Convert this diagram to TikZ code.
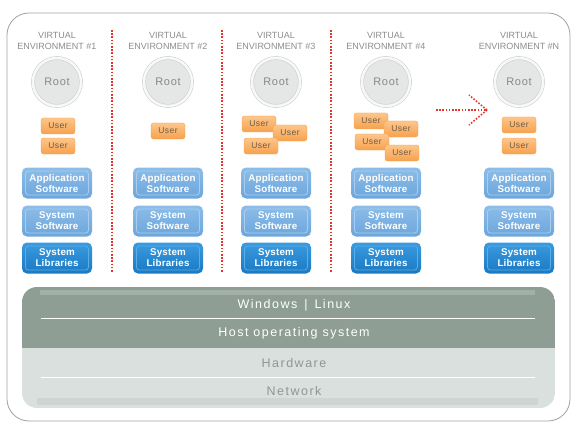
\documentclass[tikz,border=0pt]{standalone}
\usepackage{fontspec}
\setmainfont{Liberation Sans}
\newfontfamily\hdrfont{Liberation Sans}
\newfontfamily\rootfont[LetterSpace=6]{Liberation Sans}
\newfontfamily\userfont[LetterSpace=6]{Liberation Sans}
\newfontfamily\boxfont[LetterSpace=2]{Liberation Sans}
\newfontfamily\hostfont[LetterSpace=12]{Liberation Sans}
\definecolor{framegray}{HTML}{9EA3A0}
\definecolor{hdrgray}{HTML}{8C8C8C}
\definecolor{dotred}{HTML}{E8352B}
\definecolor{rootfill}{HTML}{E5E7E6}
\definecolor{rootrim}{HTML}{CDD0CF}
\definecolor{roottext}{HTML}{858987}
\definecolor{usertop}{HTML}{FDC68A}
\definecolor{userbot}{HTML}{F6A24F}
\definecolor{usertext}{HTML}{6E5B48}
\definecolor{softtop}{HTML}{8DBDE8}
\definecolor{softbot}{HTML}{6CA6DC}
\definecolor{softline}{HTML}{A9CDEE}
\definecolor{libtop}{HTML}{3A9BE0}
\definecolor{libbot}{HTML}{1A79C2}
\definecolor{libline}{HTML}{5CAEE6}
\definecolor{hostgray}{HTML}{8E9E95}
\definecolor{hoststrip}{HTML}{A3B0A9}
\definecolor{hwgray}{HTML}{DAE0DD}
\definecolor{hwstrip}{HTML}{CDD4D1}
\definecolor{hwtext}{HTML}{8E9792}
\begin{document}
\begin{tikzpicture}[x=1pt, y=-1pt,
  hdr/.style={font=\hdrfont\fontsize{9}{11.5}\selectfont, text=hdrgray, align=center, inner sep=0pt},
  rootnode/.style={circle, minimum size=48pt, inner sep=0pt, fill=rootfill, draw=rootrim,
    double=white!70!rootfill, double distance=2.5pt, line width=0.6pt,
    font=\rootfont\fontsize{11}{13}\selectfont, text=roottext},
  userbox/.style={rounded corners=2.5pt, minimum width=34pt, minimum height=16pt, inner sep=0pt,
    top color=usertop, bottom color=userbot, draw=userbot, line width=0.4pt,
    font=\userfont\fontsize{8.5}{10}\selectfont, text=usertext},
  swbox/.style={rounded corners=5pt, minimum width=70pt, minimum height=31pt, inner sep=0pt,
    align=center, top color=#1top, bottom color=#1bot,
    font=\boxfont\bfseries\fontsize{9.8}{11}\selectfont, text=white,
    path picture={\draw[#1line, line width=0.8pt, rounded corners=3pt]
      ([xshift=3.5pt,yshift=-3.5pt]path picture bounding box.north west) rectangle
      ([xshift=-3.5pt,yshift=3.5pt]path picture bounding box.south east);}},
  redline/.style={dotred, line width=1.6pt, dash pattern=on 1.6pt off 1.6pt},
  hosttext/.style={font=\hostfont\fontsize{12.5}{14}\selectfont, inner sep=0pt}]
\useasboundingbox (0,0) rectangle (579,428);
% outer frame
\draw [framegray, line width=0.8pt, rounded corners=22pt] (7,13) rectangle (570,421);
% columns
\foreach \x/\lab in {57/1,168/2,276/3,386/4,519/N} {
  \node [hdr] (hdr\lab) at (\x,41) {VIRTUAL\\ENVIRONMENT \#\lab};
  \node [rootnode] (root\lab) at (\x,82) {Root};
  \node [swbox=soft] (app\lab) at (\x,183) {Application\\Software};
  \node [swbox=soft] (sys\lab) at (\x,221) {System\\Software};
  \node [swbox=lib] (lib\lab) at (\x,258) {System\\Libraries};
}
% users
\foreach \x/\y/\n in {58/126/1a,58/146/1b,168/131/2a,259/124/3a,290/133/3b,261/146/3c,
  371/121/4a,401/129/4b,372/142/4c,402/153/4d,519/125/Na,519/146/Nb}
  \node [userbox] (user\n) at (\x,\y) {User};
% separators
\foreach \x/\n in {112/1,222/2,331/3} {
  \coordinate (septop\n) at (\x,30);
  \coordinate (sepbot\n) at (\x,273);
  \draw [redline] (septop\n) -- (sepbot\n);
}
\coordinate (arrtail) at (436,110);
\coordinate (arrtip) at (487,110);
\draw [redline] (arrtail) -- (arrtip);
\draw [redline] (arrtip) -- ++(-18,-15);
\draw [redline] (arrtip) -- ++(-18,15);
% host block
\begin{scope}
\clip [rounded corners=15pt] (22,287) rectangle (555,408);
\fill [hostgray] (22,287) rectangle (555,348);
\fill [hwgray] (22,348) rectangle (555,408);
\fill [hoststrip] (40,290) rectangle (535,295);
\fill [hwstrip] (37,398) rectangle (538,405);
\end{scope}
\draw [white, line width=1pt] (41,318) -- (535,318);
\draw [white, line width=1pt] (41,377) -- (535,377);
\node [hosttext, white] (oslist) at (294,305) {Windows\hspace{7pt}|\hspace{7pt}Linux};
\node [hosttext, white] (hostos) at (294,333) {Host operating system};
\node [hosttext, hwtext] (hardware) at (294,363) {Hardware};
\node [hosttext, hwtext] (network) at (294,391) {Network};
\end{tikzpicture}
\end{document}
